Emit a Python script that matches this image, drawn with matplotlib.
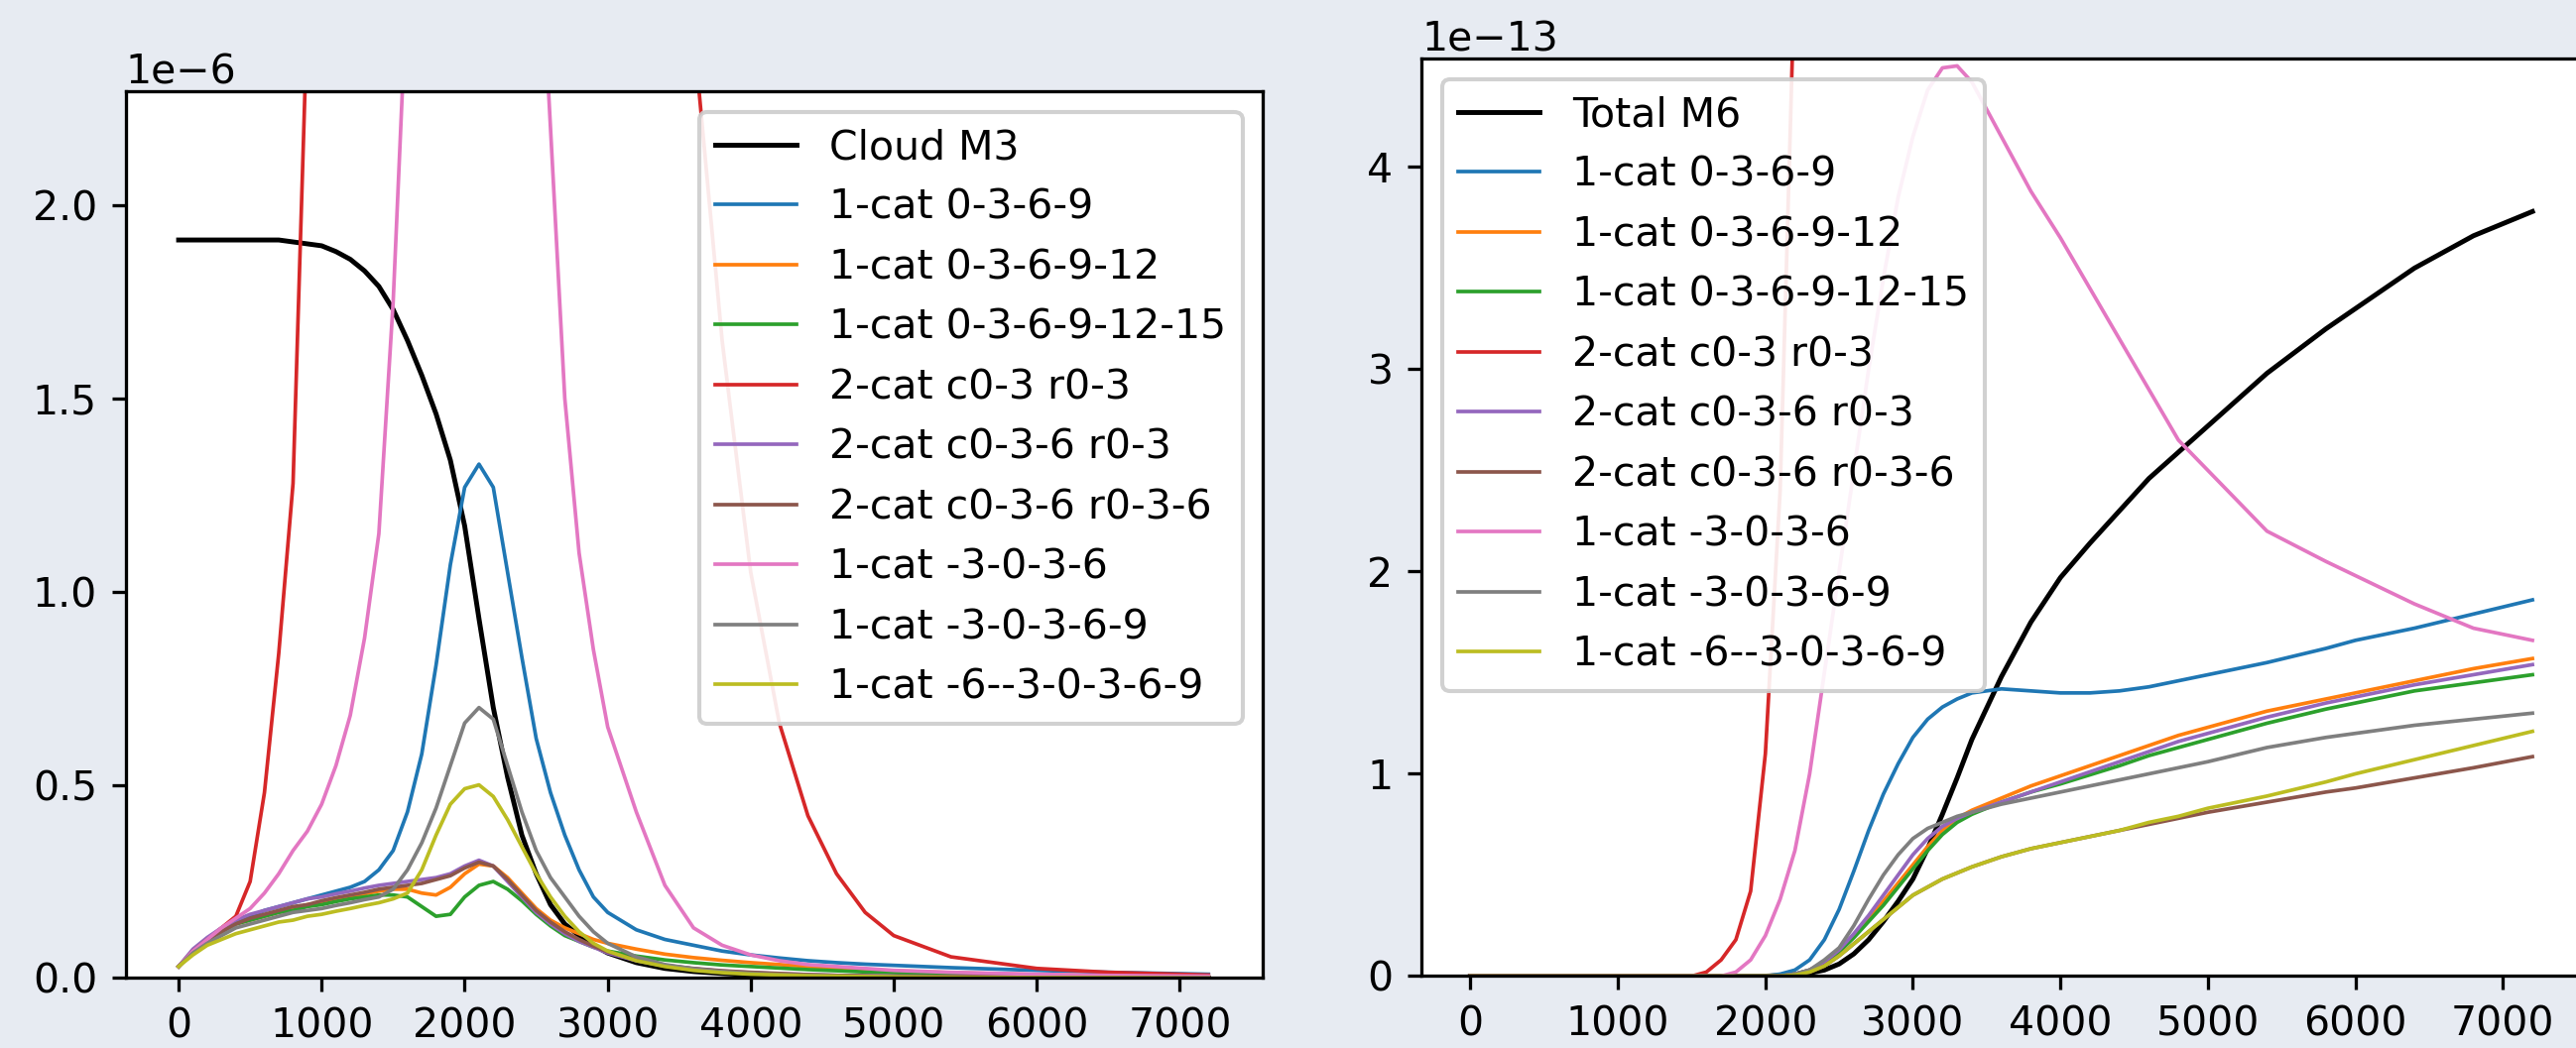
import matplotlib
matplotlib.use('Agg')
import matplotlib.pyplot as plt
import numpy as np

# left panel: time grid and series (units of 1e-6)
x_left = [0, 100, 200, 300, 400, 500, 600, 700, 800, 900, 1000, 1100, 1200, 1300,
          1400, 1500, 1600, 1700, 1800, 1900, 2000, 2100, 2200, 2300, 2400, 2500,
          2600, 2700, 2800, 2900, 3000, 3200, 3400, 3600, 3800, 4000, 4200, 4400,
          4600, 4800, 5000, 5400, 6000, 6500, 7200]

cloud_m3 = [1.91, 1.91, 1.91, 1.91, 1.91, 1.91, 1.91, 1.91, 1.905, 1.90, 1.895,
            1.88, 1.86, 1.83, 1.79, 1.73, 1.65, 1.56, 1.46, 1.34, 1.17, 0.93, 0.70,
            0.52, 0.37, 0.27, 0.19, 0.14, 0.11, 0.085, 0.065,
            0.04, 0.025, 0.017, 0.012, 0.008, 0.006, 0.004, 0.003, 0.002, 0.002,
            0.001, 0.001, 0.0, 0.0]
l_0369 = [0.03, 0.07, 0.10, 0.125, 0.145, 0.16, 0.175, 0.185, 0.195, 0.205, 0.215,
          0.225, 0.235, 0.25, 0.28, 0.33, 0.43, 0.58, 0.81, 1.07, 1.27, 1.33, 1.27,
          1.05, 0.83, 0.62, 0.48, 0.37, 0.28, 0.21, 0.17,
          0.125, 0.10, 0.085, 0.07, 0.06, 0.052, 0.045, 0.04, 0.036, 0.033, 0.027,
          0.02, 0.015, 0.01]
l_036912 = [0.03, 0.07, 0.10, 0.12, 0.14, 0.15, 0.16, 0.17, 0.18, 0.19, 0.195,
            0.203, 0.21, 0.218, 0.225, 0.23, 0.23, 0.22, 0.215, 0.235, 0.27, 0.295,
            0.29, 0.26, 0.22, 0.18, 0.15, 0.13, 0.115, 0.10, 0.09,
            0.075, 0.062, 0.053, 0.046, 0.04, 0.035, 0.03, 0.026, 0.022, 0.019,
            0.014, 0.009, 0.006, 0.003]
l_03691215 = [0.03, 0.07, 0.10, 0.12, 0.14, 0.15, 0.16, 0.17, 0.175, 0.185, 0.19,
              0.198, 0.205, 0.21, 0.215, 0.215, 0.21, 0.185, 0.16, 0.165, 0.21, 0.24,
              0.25, 0.23, 0.20, 0.165, 0.135, 0.11, 0.095, 0.08, 0.07,
              0.057, 0.047, 0.04, 0.034, 0.03, 0.026, 0.022, 0.019, 0.016, 0.014,
              0.01, 0.007, 0.005, 0.003]
l_c03_r03 = [0.03, 0.07, 0.10, 0.13, 0.16, 0.25, 0.48, 0.84, 1.28, 2.5, 3.5,
             4.5, 5.5, 6.3, 7.0, 7.5, 7.8, 8.0, 8.0, 7.9, 7.7, 7.5, 7.2, 6.9, 6.6,
             6.3, 6.0, 5.7, 5.4, 5.1, 4.8,
             4.1, 3.3, 2.45, 1.65, 1.05, 0.66, 0.42, 0.27, 0.17, 0.11, 0.055,
             0.025, 0.015, 0.008]
l_c036_r03 = [0.03, 0.075, 0.105, 0.13, 0.15, 0.165, 0.175, 0.185, 0.195, 0.205, 0.21,
              0.218, 0.225, 0.233, 0.24, 0.245, 0.25, 0.255, 0.26, 0.27, 0.29, 0.305,
              0.29, 0.25, 0.21, 0.17, 0.14, 0.115, 0.095, 0.08, 0.065,
              0.045, 0.032, 0.024, 0.018, 0.014, 0.011, 0.009, 0.007, 0.006, 0.005,
              0.004, 0.003, 0.002, 0.001]
l_c036_r036 = [0.03, 0.07, 0.10, 0.12, 0.14, 0.155, 0.165, 0.175, 0.185, 0.19, 0.20,
               0.208, 0.215, 0.222, 0.23, 0.235, 0.24, 0.245, 0.255, 0.265, 0.285,
               0.30, 0.29, 0.255, 0.215, 0.175, 0.145, 0.12, 0.10, 0.083, 0.068,
               0.047, 0.033, 0.025, 0.019, 0.015, 0.012, 0.009, 0.007, 0.006, 0.005,
               0.004, 0.003, 0.002, 0.001]
l_m3036 = [0.03, 0.07, 0.10, 0.13, 0.155, 0.18, 0.22, 0.27, 0.33, 0.38, 0.45,
           0.55, 0.68, 0.88, 1.15, 1.75, 2.6, 3.3, 3.8, 4.2, 4.4, 4.5, 4.4, 4.1, 3.6,
           2.9, 2.2, 1.5, 1.1, 0.85, 0.65,
           0.43, 0.24, 0.13, 0.085, 0.06, 0.045, 0.035, 0.03, 0.025, 0.02, 0.015,
           0.01, 0.007, 0.005]
l_m30369 = [0.03, 0.065, 0.09, 0.11, 0.13, 0.14, 0.15, 0.16, 0.17, 0.175, 0.18,
            0.188, 0.195, 0.203, 0.21, 0.23, 0.28, 0.35, 0.44, 0.55, 0.66, 0.70, 0.67,
            0.55, 0.43, 0.33, 0.26, 0.21, 0.16, 0.12, 0.09,
            0.055, 0.035, 0.024, 0.017, 0.012, 0.009, 0.007, 0.005, 0.004, 0.003,
            0.002, 0.001, 0.001, 0.0]
l_m6m30369 = [0.03, 0.06, 0.085, 0.10, 0.115, 0.125, 0.135, 0.145, 0.15, 0.16, 0.165,
              0.173, 0.18, 0.188, 0.195, 0.205, 0.22, 0.28, 0.37, 0.45, 0.49, 0.50,
              0.47, 0.41, 0.34, 0.27, 0.21, 0.16, 0.12, 0.09, 0.07,
              0.045, 0.03, 0.02, 0.014, 0.01, 0.008, 0.006, 0.005, 0.004, 0.003,
              0.002, 0.001, 0.001, 0.0]

# right panel: time grid and series (units of 1e-13)
x_right = [0, 500, 1000, 1500, 1600, 1700, 1800, 1900, 2000, 2100, 2200, 2300, 2400,
           2500, 2600, 2700, 2800, 2900, 3000, 3100, 3200, 3300, 3400, 3600, 3800,
           4000, 4200, 4400, 4600, 4800, 5000, 5400, 5800, 6000, 6400, 6800, 7200]

total_m6 = [0, 0, 0, 0, 0, 0, 0, 0, 0, 0.003, 0.008, 0.015, 0.03, 0.06, 0.11, 0.18,
            0.27, 0.37, 0.48, 0.63, 0.8, 0.98, 1.17, 1.48, 1.75, 1.97, 2.14, 2.3,
            2.46, 2.59, 2.72, 2.98, 3.2, 3.3, 3.5, 3.66, 3.78]
r_0369 = [0, 0, 0, 0, 0, 0, 0, 0, 0, 0.01, 0.03, 0.08, 0.18, 0.33, 0.52, 0.72, 0.9,
          1.05, 1.18, 1.27, 1.33, 1.37, 1.40, 1.42, 1.41, 1.40, 1.40, 1.41, 1.43,
          1.46, 1.49, 1.55, 1.62, 1.66, 1.72, 1.79, 1.86]
r_036912 = [0, 0, 0, 0, 0, 0, 0, 0, 0, 0, 0.01, 0.03, 0.07, 0.13, 0.2, 0.28, 0.37,
            0.46, 0.55, 0.64, 0.72, 0.78, 0.82, 0.88, 0.94, 0.99, 1.04, 1.09, 1.14,
            1.19, 1.23, 1.31, 1.37, 1.40, 1.46, 1.52, 1.57]
r_03691215 = [0, 0, 0, 0, 0, 0, 0, 0, 0, 0, 0.01, 0.03, 0.06, 0.12, 0.19, 0.27, 0.35,
              0.44, 0.53, 0.62, 0.70, 0.76, 0.80, 0.86, 0.91, 0.95, 0.995, 1.04, 1.09,
              1.13, 1.17, 1.25, 1.32, 1.35, 1.41, 1.45, 1.49]
r_c03_r03 = [0, 0, 0, 0, 0.02, 0.08, 0.18, 0.42, 1.1, 2.4, 5.0, 7.5, 9.5, 11, 12.5,
             14, 15, 16, 17, 17.5, 18, 18.5, 19, 20, 21, 22, 23, 24, 25, 26, 27, 28,
             29, 30, 31, 32, 33]
r_c036_r03 = [0, 0, 0, 0, 0, 0, 0, 0, 0, 0, 0.01, 0.03, 0.07, 0.13, 0.21, 0.3, 0.4,
              0.5, 0.6, 0.68, 0.74, 0.78, 0.81, 0.86, 0.91, 0.96, 1.01, 1.06, 1.11,
              1.16, 1.2, 1.28, 1.35, 1.38, 1.44, 1.49, 1.54]
r_c036_r036 = [0, 0, 0, 0, 0, 0, 0, 0, 0, 0, 0.005, 0.02, 0.05, 0.1, 0.16, 0.22,
               0.28, 0.34, 0.40, 0.44, 0.48, 0.51, 0.54, 0.59, 0.63, 0.66, 0.69, 0.72,
               0.75, 0.78, 0.81, 0.86, 0.91, 0.93, 0.98, 1.03, 1.085]
r_m3036 = [0, 0, 0, 0, 0, 0, 0.02, 0.08, 0.2, 0.38, 0.62, 1.0, 1.5, 2.0, 2.5, 3.0,
           3.45, 3.85, 4.15, 4.38, 4.49, 4.5, 4.42, 4.15, 3.88, 3.65, 3.4, 3.15, 2.9,
           2.65, 2.5, 2.2, 2.05, 1.98, 1.84, 1.72, 1.66]
r_m30369 = [0, 0, 0, 0, 0, 0, 0, 0, 0, 0, 0.01, 0.03, 0.08, 0.14, 0.25, 0.38, 0.5,
            0.6, 0.68, 0.73, 0.76, 0.79, 0.81, 0.85, 0.88, 0.91, 0.94, 0.97, 1.0,
            1.03, 1.06, 1.13, 1.18, 1.2, 1.24, 1.27, 1.30]
r_m6m30369 = [0, 0, 0, 0, 0, 0, 0, 0, 0, 0, 0.005, 0.02, 0.05, 0.1, 0.16, 0.22, 0.28,
              0.34, 0.40, 0.44, 0.48, 0.51, 0.54, 0.59, 0.63, 0.66, 0.69, 0.72, 0.76,
              0.79, 0.83, 0.89, 0.96, 1.0, 1.07, 1.14, 1.21]

labels = ['1-cat 0-3-6-9', '1-cat 0-3-6-9-12', '1-cat 0-3-6-9-12-15',
          '2-cat c0-3 r0-3', '2-cat c0-3-6 r0-3', '2-cat c0-3-6 r0-3-6',
          '1-cat -3-0-3-6', '1-cat -3-0-3-6-9', '1-cat -6--3-0-3-6-9']
colors = ['C0', 'C1', 'C2', 'C3', 'C4', 'C5', 'C6', 'C7', 'C8']

left_series = [l_0369, l_036912, l_03691215, l_c03_r03, l_c036_r03, l_c036_r036,
               l_m3036, l_m30369, l_m6m30369]
right_series = [r_0369, r_036912, r_03691215, r_c03_r03, r_c036_r03, r_c036_r036,
                r_m3036, r_m30369, r_m6m30369]

dpi = 295
fig = plt.figure(figsize=(2597 / dpi, 1057 / dpi), dpi=dpi, facecolor='#e7ebf2')
ax1 = fig.add_axes([0.0488, 0.0667, 0.4414, 0.8459])
ax2 = fig.add_axes([0.5519, 0.0686, 0.4518, 0.8753])

ax1.plot(x_left, np.array(cloud_m3) * 1e-6, color='k', lw=1.2, label='Cloud M3')
for ys, lab, c in zip(left_series, labels, colors):
    ax1.plot(x_left, np.array(ys) * 1e-6, color=c, lw=0.9, label=lab)
ax1.set_xlim(-370, 7580)
ax1.set_ylim(0, 2.294e-6)
leg1 = ax1.legend(loc='upper right', framealpha=0.9, facecolor='white')
leg1.set_zorder(10)

ax2.plot(x_right, np.array(total_m6) * 1e-13, color='k', lw=1.2, label='Total M6')
for ys, lab, c in zip(right_series, labels, colors):
    ax2.plot(x_right, np.array(ys) * 1e-13, color=c, lw=0.9, label=lab)
ax2.set_xlim(-330, 7560)
ax2.set_ylim(0, 4.535e-13)
leg2 = ax2.legend(loc='upper left', framealpha=0.9, facecolor='white')
leg2.set_zorder(10)

for ax in (ax1, ax2):
    ax.set_xticks([0, 1000, 2000, 3000, 4000, 5000, 6000, 7000])
    ax.yaxis.OFFSETTEXTPAD = 2

fig.savefig('out.png', dpi=dpi, facecolor=fig.get_facecolor())
